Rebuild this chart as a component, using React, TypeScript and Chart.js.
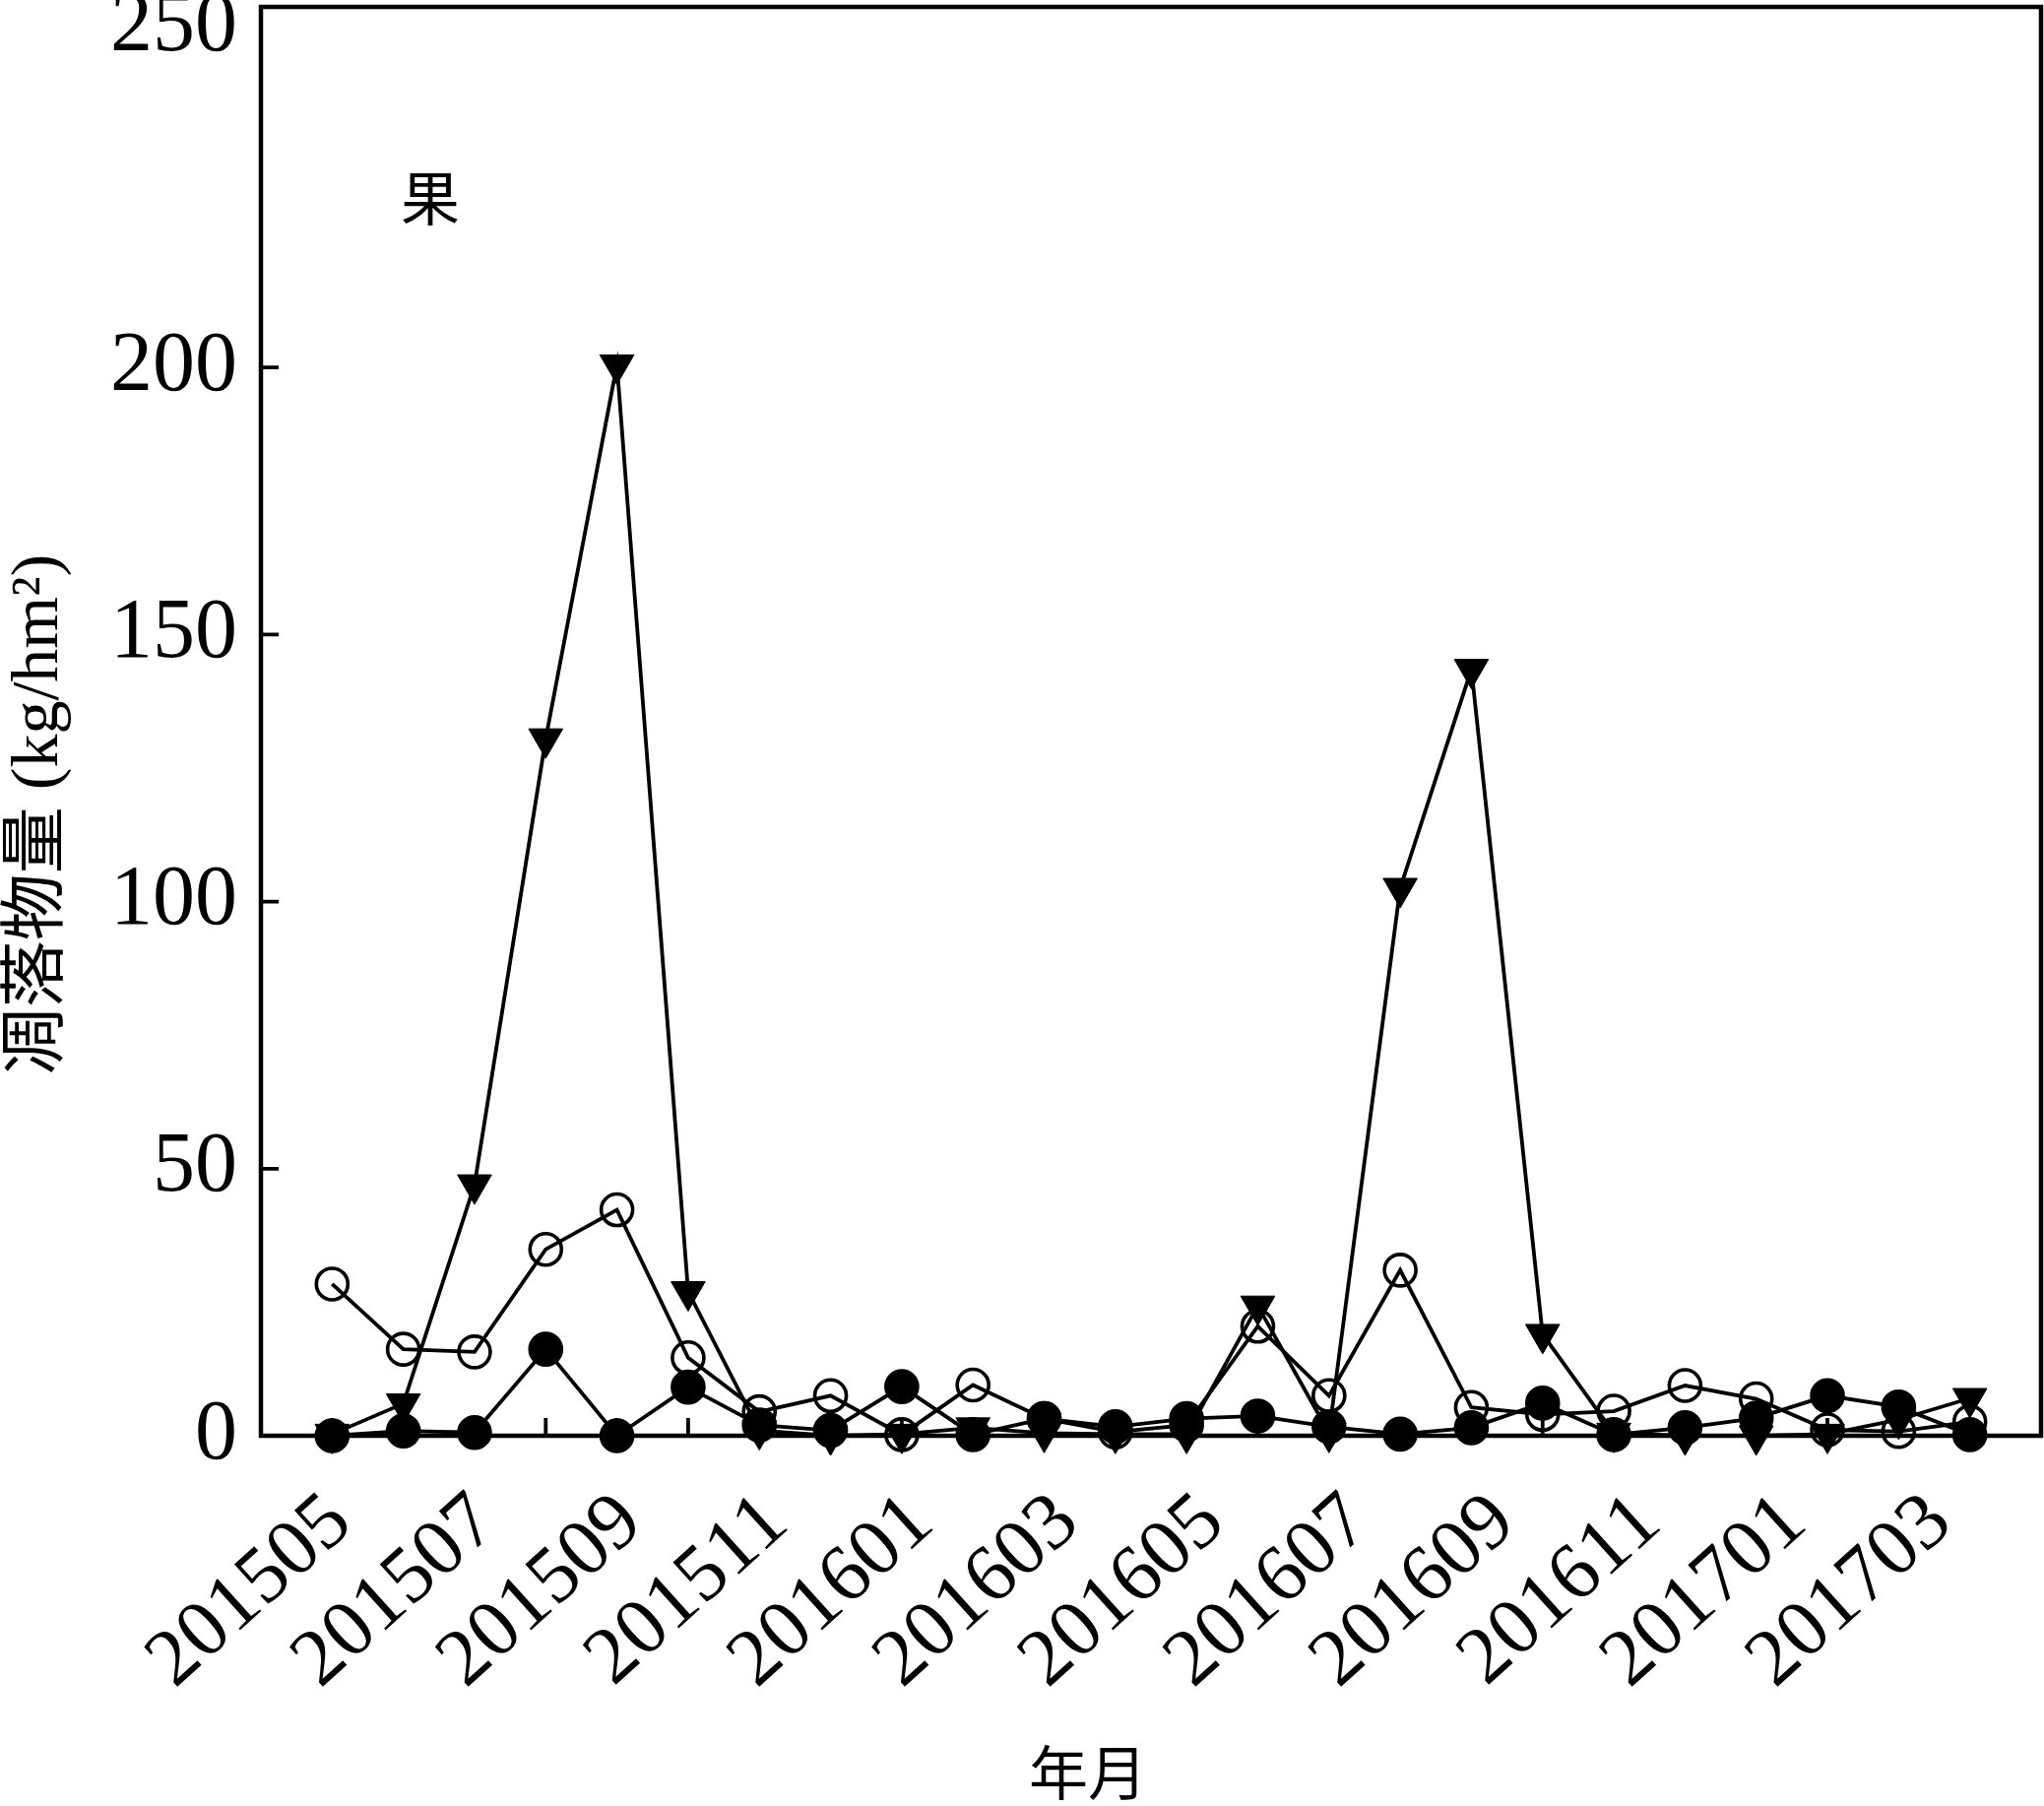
import { useEffect, useRef } from "react"
import { Chart, registerables } from "chart.js"

Chart.register(...registerables)

// months 201505 .. 201704
const months = [
  "201505", "201506", "201507", "201508", "201509", "201510", "201511", "201512",
  "201601", "201602", "201603", "201604", "201605", "201606", "201607", "201608",
  "201609", "201610", "201611", "201612", "201701", "201702", "201703", "201704",
]
// every other month is labelled
const labelMonths = months.filter((_, i) => i % 2 === 0)

// fruit litter (kg/hm2), three stands
const triangleValues = [0.3, 6, 47, 130.5, 200.5, 27, 1, 0, 0.3, 1.5, 0.5, 0.3, 0.3, 24.3, 0.5, 102.5, 143.5, 19, 0.5, 0, 0, 0.3, 3, 7]
const openCircleValues = [28.4, 16.2, 15.7, 34.9, 42.3, 14.6, 4.5, 7.5, 0.2, 9.5, 3.2, 0.7, 2, 20.5, 7.5, 31, 5.3, 4, 4.6, 9.4, 6.9, 1.1, 0.8, 2.6]
const filledCircleValues = [0, 0.9, 0.6, 16.2, 0, 9.1, 2, 1, 9.2, 0.2, 3.2, 1.7, 3.2, 3.7, 1.7, 0.3, 1.5, 6.1, 0.2, 1.5, 3.3, 7.5, 5.4, 0.2]

// y ticks as printed on the figure (the "250" sits at the top edge of the frame)
const yTickValues = [0, 50, 100, 150, 200, 263.5]
const yTickLabels = ["0", "50", "100", "150", "200", "250"]
const yTickMarks = [50, 100, 150, 200]
const Y_MAX = 267.5

const SERIF = "'Liberation Serif', 'Times New Roman', 'Noto Sans CJK SC', serif"
const CJK = "'Noto Sans CJK SC', sans-serif"

const toPoints = (vals: number[]) => vals.map((v, i) => ({ x: i, y: v }))

const framePlugin = {
  id: "frame",
  beforeDatasetsDraw(chart: any) {
    const { ctx, chartArea: a, scales } = chart
    ctx.save()
    ctx.strokeStyle = "#000"
    ctx.lineWidth = 4.5
    ctx.strokeRect(a.left, a.top, a.right - a.left, a.bottom - a.top)

    ctx.lineWidth = 3.8
    ctx.beginPath()
    for (const v of yTickMarks) {
      const y = scales.y.getPixelForValue(v)
      ctx.moveTo(a.left, y)
      ctx.lineTo(a.left + 18, y)
    }
    months.forEach((_, i) => {
      const x = scales.x.getPixelForValue(i)
      ctx.moveTo(x, a.bottom)
      ctx.lineTo(x, a.bottom - 18)
    })
    ctx.stroke()

    ctx.fillStyle = "#000"
    ctx.textAlign = "center"
    ctx.textBaseline = "middle"

    ctx.font = `60px ${CJK}`
    ctx.fillText("果", 437, 201)
    ctx.fillText("年月", 1105, 1800)

    ctx.translate(40, 827)
    ctx.rotate(-Math.PI / 2)
    ctx.font = `68px ${SERIF}`
    ctx.fillText("凋落物量 (kg/hm²)", 0, 0)
    ctx.restore()
  },
}

export default function App() {
  const chartRef = useRef<HTMLCanvasElement>(null)
  const chartInstance = useRef<Chart | null>(null)

  useEffect(() => {
    document.body.style.margin = "0"
    if (!chartRef.current) return
    if (chartInstance.current) chartInstance.current.destroy()

    const ctx = chartRef.current.getContext("2d")
    if (!ctx) return

    const common = {
      borderColor: "#000",
      borderWidth: 3.8,
      pointBorderColor: "#000",
      pointBorderWidth: 3.6,
      tension: 0,
      clip: false as const,
    }

    chartInstance.current = new Chart(ctx, {
      type: "line",
      data: {
        datasets: [
          {
            ...common,
            label: "filled",
            data: toPoints(filledCircleValues),
            pointStyle: "circle",
            pointRadius: 16,
            pointBackgroundColor: "#000",
            order: 0,
          },
          {
            ...common,
            label: "triangle",
            data: toPoints(triangleValues),
            pointStyle: "triangle",
            pointRotation: 180,
            pointRadius: 20,
            pointBorderWidth: 1,
            pointBackgroundColor: "#000",
            order: 1,
          },
          {
            ...common,
            label: "open",
            data: toPoints(openCircleValues),
            pointStyle: "circle",
            pointRadius: 16,
            pointBackgroundColor: "rgba(255,255,255,0)",
            order: 2,
          },
        ],
      },
      options: {
        animation: false,
        responsive: true,
        maintainAspectRatio: false,
        layout: { autoPadding: false, padding: { top: 7, right: 3, left: 0, bottom: 0 } },
        plugins: {
          legend: { display: false },
          tooltip: { enabled: false },
        },
        scales: {
          x: {
            type: "linear",
            min: -1,
            max: 24,
            grid: { display: false, drawTicks: false },
            border: { display: false },
            ticks: { display: false },
            afterFit: (scale: any) => {
              scale.height = 0
              scale.paddingLeft = 0
              scale.paddingRight = 0
            },
          },
          // the printed month labels sit on a slightly wider grid than the points
          xLabels: {
            type: "linear",
            position: "bottom",
            min: -0.548,
            max: 11.69,
            grid: { display: false, drawTicks: false },
            border: { display: false },
            afterBuildTicks: (scale: any) => {
              scale.ticks = labelMonths.map((_, k) => ({ value: k }))
            },
            afterFit: (scale: any) => {
              scale.height = 376
              scale.paddingLeft = 0
              scale.paddingRight = 0
            },
            ticks: {
              autoSkip: false,
              minRotation: 42,
              maxRotation: 42,
              padding: 40,
              color: "#000",
              font: { family: SERIF, size: 82 },
              callback: (value: any) => labelMonths[Number(value)] ?? "",
            },
          },
          y: {
            type: "linear",
            min: 0,
            max: Y_MAX,
            grid: { display: false, drawTicks: false },
            border: { display: false },
            afterBuildTicks: (scale: any) => {
              scale.ticks = yTickValues.map((v) => ({ value: v }))
            },
            afterFit: (scale: any) => {
              scale.width = 265
              scale.paddingTop = 0
              scale.paddingBottom = 0
            },
            ticks: {
              padding: 24,
              color: "#000",
              font: { family: SERIF, size: 86 },
              callback: (value: any) => {
                const k = yTickValues.indexOf(Number(value))
                return k >= 0 ? yTickLabels[k] : ""
              },
            },
          },
        },
      },
      plugins: [framePlugin],
    })

    return () => {
      if (chartInstance.current) {
        chartInstance.current.destroy()
        chartInstance.current = null
      }
    }
  }, [])

  return (
    <div style={{ width: 2076, height: 1834, position: "relative", background: "#fff" }}>
      <canvas ref={chartRef} />
    </div>
  )
}
